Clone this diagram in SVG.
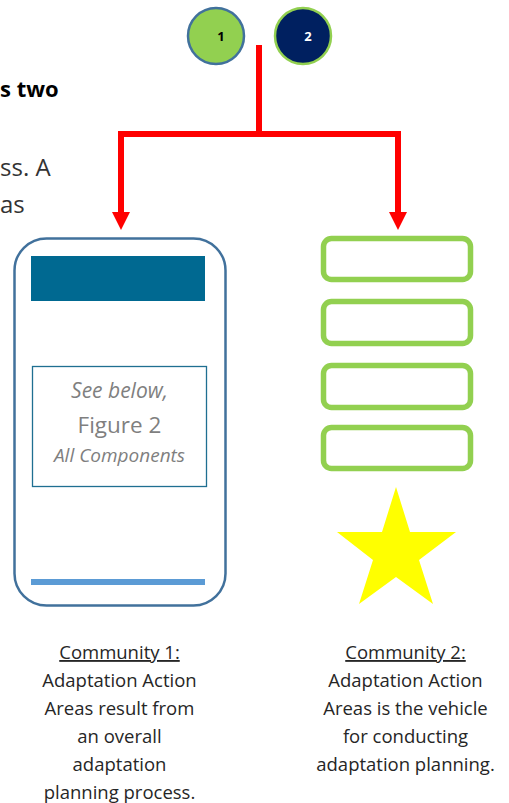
<svg xmlns="http://www.w3.org/2000/svg" width="509" height="803" viewBox="0 0 509 803">
<defs>
<style>
.t{font-family:"Open Sans","Liberation Sans",sans-serif;}
.cap{font-size:18.5px;fill:#262626;text-anchor:middle;}
.grn{fill:none;stroke:#92d050;stroke-width:5.5;}
.red{fill:none;stroke:#ff0000;stroke-width:6;}
</style>
</defs>
<rect width="509" height="803" fill="#ffffff"/>
<g id="page-text" class="t">
<text x="0" y="97" font-size="22" font-weight="bold" fill="#000">s two</text>
<text x="0" y="176" font-size="24" fill="#333">ss. A</text>
<text x="0" y="213" font-size="24" fill="#333">as</text>
</g>
<g id="c1">
<circle cx="216" cy="36" r="28" fill="#92d050" stroke="#41719c" stroke-width="2.5"/>
<text class="t" x="221" y="41" font-size="13" font-weight="bold" fill="#000" text-anchor="middle">1</text>
</g>
<g id="c2">
<circle cx="303" cy="36" r="28" fill="#002060" stroke="#92d050" stroke-width="2.5"/>
<text class="t" x="308" y="41" font-size="13" font-weight="bold" fill="#fff" text-anchor="middle">2</text>
</g>
<g id="connectors">
<path class="red" d="M259,45 V134"/>
<path class="red" d="M121,212 V134 H398 V212"/>
<path d="M112,212 L130,212 L121,230 Z" fill="#ff0000"/>
<path d="M389,212 L407,212 L398,230 Z" fill="#ff0000"/>
</g>
<g id="community1-frame">
<rect x="14.5" y="238.5" width="211" height="367" rx="32" fill="none" stroke="#41719c" stroke-width="2.5"/>
<rect x="31" y="256" width="174" height="45" fill="#006991"/>
<rect x="32.5" y="366.5" width="174" height="120" fill="#fff" stroke="#1f6f91" stroke-width="1.3"/>
<text class="t" x="119.5" y="398" font-size="21" font-style="italic" fill="#7f7f7f" text-anchor="middle">See below,</text>
<text class="t" x="119.5" y="433" font-size="22.5" fill="#7f7f7f" text-anchor="middle">Figure 2</text>
<text class="t" x="119.5" y="462" font-size="19" font-style="italic" fill="#7f7f7f" text-anchor="middle">All Components</text>
<rect x="31" y="579" width="174" height="6" fill="#5b9bd5"/>
</g>
<g id="community2-frame">
<rect class="grn" x="323.5" y="238.5" width="147" height="41" rx="8"/>
<rect class="grn" x="323.5" y="301.5" width="147" height="42" rx="8"/>
<rect class="grn" x="323.5" y="365.5" width="147" height="42" rx="8"/>
<rect class="grn" x="323.5" y="427.5" width="147" height="41" rx="8"/>
<polygon points="396,487 410,532 456,532 419,560 433,604 396,577 359,604 373,560 337,532 382,532" fill="#ffff00"/>
</g>
<g id="caption1" class="t cap">
<text x="119.5" y="659" text-decoration="underline">Community 1:</text>
<text x="119.5" y="687">Adaptation Action</text>
<text x="119.5" y="715">Areas result from</text>
<text x="119.5" y="743">an overall</text>
<text x="119.5" y="771">adaptation</text>
<text x="119.5" y="799">planning process.</text>
</g>
<g id="caption2" class="t cap">
<text x="405.5" y="659" text-decoration="underline">Community 2:</text>
<text x="405.5" y="687">Adaptation Action</text>
<text x="405.5" y="715">Areas is the vehicle</text>
<text x="405.5" y="743">for conducting</text>
<text x="405.5" y="771">adaptation planning.</text>
</g>
</svg>
